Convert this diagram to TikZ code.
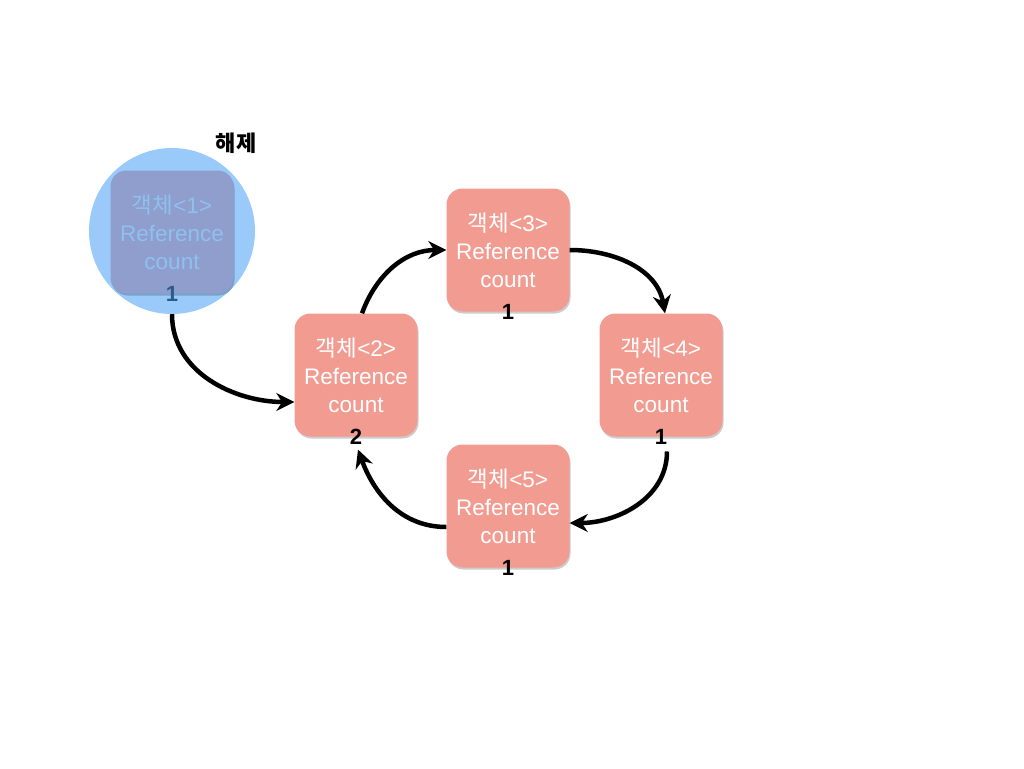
\documentclass[tikz,border=0pt]{standalone}
\usepackage{fontspec}
\setmainfont{Liberation Sans}
\newfontfamily\kr{Noto Sans CJK KR}
\usetikzlibrary{arrows.meta,positioning,shadows}
\definecolor{objred}{RGB}{242,156,145}
\definecolor{freeblue}{RGB}{153,202,250}
\definecolor{freebox}{RGB}{143,158,204}
\definecolor{freetext}{RGB}{142,192,240}
\definecolor{freenum}{RGB}{44,90,140}
\tikzstyle{obj}=[fill=objred,text=white,rounded corners=16pt,minimum width=123pt,minimum height=123pt,inner sep=0pt,align=center,font=\fontsize{22.5}{28}\selectfont,drop shadow={shadow xshift=1pt,shadow yshift=-2pt,opacity=0.2,fill=black}]
\tikzstyle{cnt}=[font=\bfseries\fontsize{22}{22}\selectfont,inner sep=1pt]
\tikzstyle{ref}=[-{Stealth[length=18pt,width=18pt]},line width=4.5pt]

\begin{document}
\begin{tikzpicture}[x=1pt,y=-1pt]
\useasboundingbox (0,0) rectangle (1024,768);
% released object
\node[circle,fill=freeblue,minimum size=166pt,inner sep=0pt] (free) at (172,231) {};
\node[obj,fill=freebox,text=freetext,drop shadow={opacity=0}] (o1) at (172,232) {{\kr 객체}<1>\\Reference\\count};
\node[cnt,text=freenum] (c1) at (o1.south) {1};
\node[font=\bfseries\fontsize{22}{22}\selectfont] (rel) at (236,143) {\kr 해제};
% objects
\node[obj] (o2) at (356,375) {{\kr 객체}<2>\\Reference\\count};
\node[obj] (o3) at (508,250) {{\kr 객체}<3>\\Reference\\count};
\node[obj] (o4) at (661,375) {{\kr 객체}<4>\\Reference\\count};
\node[obj] (o5) at (508,506) {{\kr 객체}<5>\\Reference\\count};
\node[cnt] (c2) at (o2.south) {2};
\node[cnt] (c3) at (o3.south) {1};
\node[cnt] (c4) at (o4.south) {1};
\node[cnt] (c5) at (o5.south) {1};
% references
\draw[ref] (free.south) to[out=-90,in=180] ([yshift=-27pt]o2.west);
\draw[ref] ([xshift=6pt]o2.north) to[out=70,in=180] (o3.west);
\draw[ref] (o3.east) to[out=0,in=100] ([xshift=4pt]o4.north);
\draw[ref] ([xshift=6pt,yshift=-6pt]c4.south) to[out=-90,in=0] ([yshift=-17pt]o5.east);
\draw[ref] ([yshift=-21pt]o5.west) to[out=180,in=-70] ([xshift=2pt,yshift=-4pt]c2.south);
\end{tikzpicture}
\end{document}
